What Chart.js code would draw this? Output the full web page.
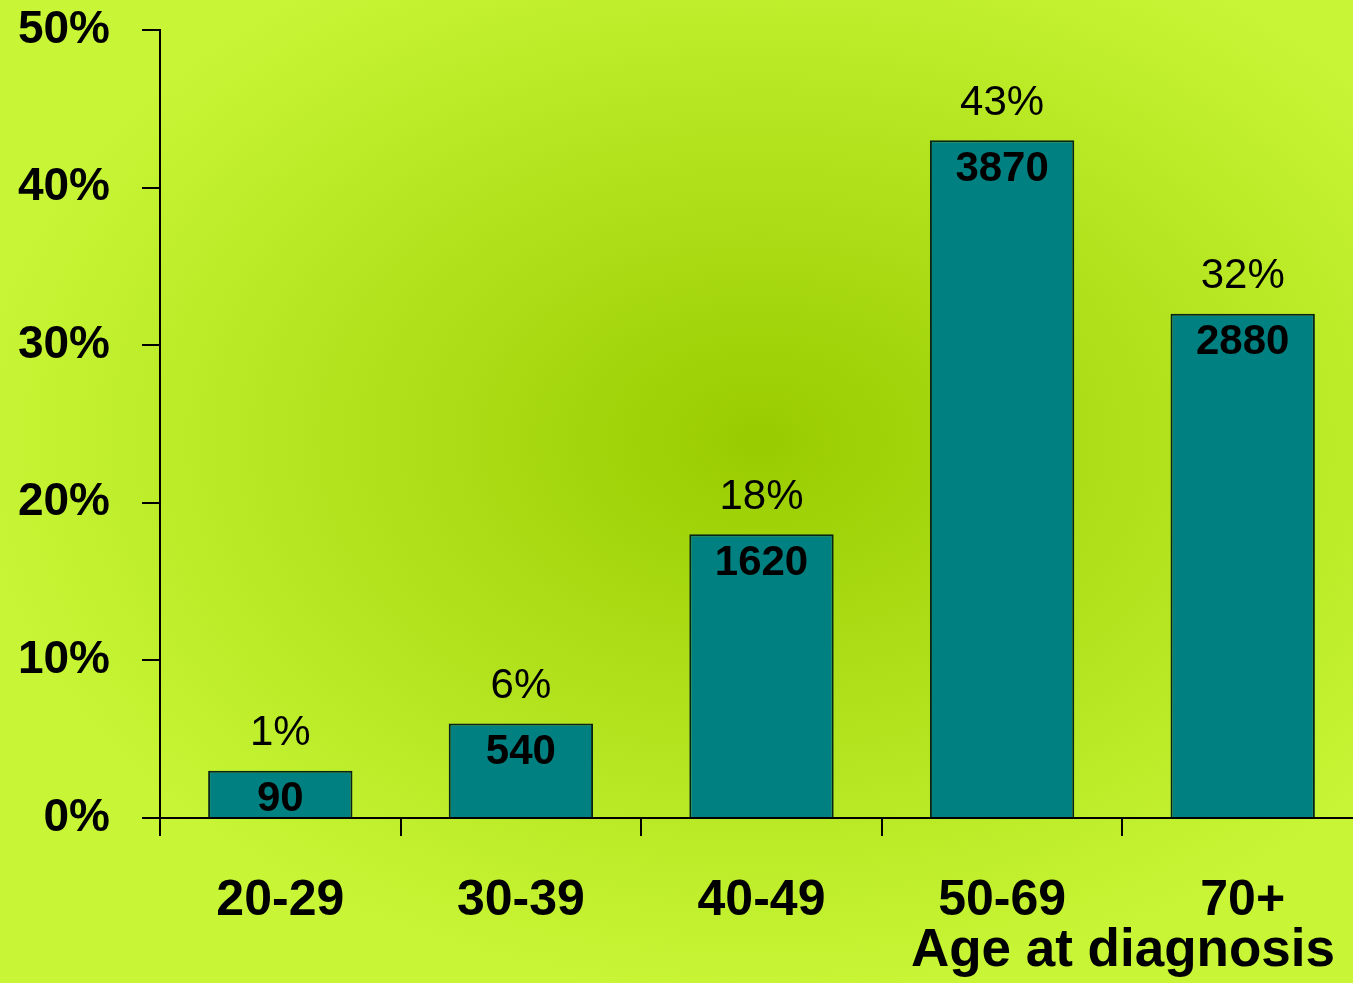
<!DOCTYPE html>
<html>
<head>
<meta charset="utf-8">
<script src="https://cdn.jsdelivr.net/npm/chart.js@4"></script>
<style>
  html, body { margin: 0; padding: 0; overflow: hidden; background: #c6f532; }
  canvas { display: block; }
</style>
</head>
<body>
<canvas id="grafico" width="1363" height="983"></canvas>
<script>
const categories = ['20-29', '30-39', '40-49', '50-69', '70+'];
const barValues = [3, 6, 18, 43, 32];
const percentLabels = ['1%', '6%', '18%', '43%', '32%'];
const counts = [90, 540, 1620, 3870, 2880];
const axisTitle = 'Age at diagnosis';

const FONT = '"Liberation Sans", Arial, sans-serif';

// soft radial background like the slide
const fundo = {
  id: 'fundo',
  beforeDraw(chart) {
    const ctx = chart.ctx;
    ctx.save();
    ctx.translate(760, 440);
    ctx.scale(1, 0.7);
    const g = ctx.createRadialGradient(0, 0, 0, 0, 0, 790);
    g.addColorStop(0, '#99cc00');
    g.addColorStop(1, '#c8f636');
    ctx.fillStyle = g;
    ctx.fillRect(-800, -800, 1700, 1700);
    ctx.restore();
  }
};

// percent above the bar, count inside it
const rotulos = {
  id: 'rotulos',
  afterDatasetsDraw(chart) {
    const ctx = chart.ctx;
    const meta = chart.getDatasetMeta(0);
    ctx.save();
    ctx.fillStyle = '#000';
    ctx.textAlign = 'center';
    ctx.textBaseline = 'middle';
    meta.data.forEach((bar, i) => {
      ctx.font = '42px ' + FONT;
      ctx.fillText(percentLabels[i], bar.x, bar.y - 37);
      ctx.font = 'bold 42px ' + FONT;
      ctx.fillText(String(counts[i]), bar.x, bar.y + 29);
    });
    ctx.font = 'bold 53px ' + FONT;
    ctx.textAlign = 'right';
    ctx.textBaseline = 'alphabetic';
    ctx.fillText(axisTitle, 1335, 966);
    ctx.restore();
  }
};

new Chart(document.getElementById('grafico'), {
  type: 'bar',
  data: {
    labels: categories,
    datasets: [{
      data: barValues,
      backgroundColor: '#008080',
      borderColor: '#06241a',
      borderWidth: 2,
      barPercentage: 0.6,
      categoryPercentage: 1
    }]
  },
  options: {
    responsive: false,
    animation: false,
    layout: { padding: { top: 30, right: 0, left: 0, bottom: 0 } },
    plugins: {
      legend: { display: false },
      tooltip: { enabled: false }
    },
    scales: {
      x: {
        grid: { drawOnChartArea: false, drawTicks: true, tickLength: 18, color: '#000', lineWidth: 2, offset: true },
        border: { color: '#000', width: 2 },
        ticks: { color: '#000', font: { family: FONT, size: 50, weight: 'bold' }, padding: 35, maxRotation: 0 },
        afterFit(s) { s.height = 165; s.paddingLeft = 0; s.paddingRight = 0; }
      },
      y: {
        min: 0,
        max: 50,
        grid: { drawOnChartArea: false, drawTicks: true, tickLength: 18, color: '#000', lineWidth: 2 },
        border: { color: '#000', width: 2 },
        ticks: {
          stepSize: 10,
          color: '#000',
          padding: 32,
          font: { family: FONT, size: 46, weight: 'bold' },
          callback: v => v + '%'
        },
        afterFit(s) { s.width = 160; s.paddingTop = 0; s.paddingBottom = 0; }
      }
    }
  },
  plugins: [fundo, rotulos]
});
</script>
</body>
</html>
